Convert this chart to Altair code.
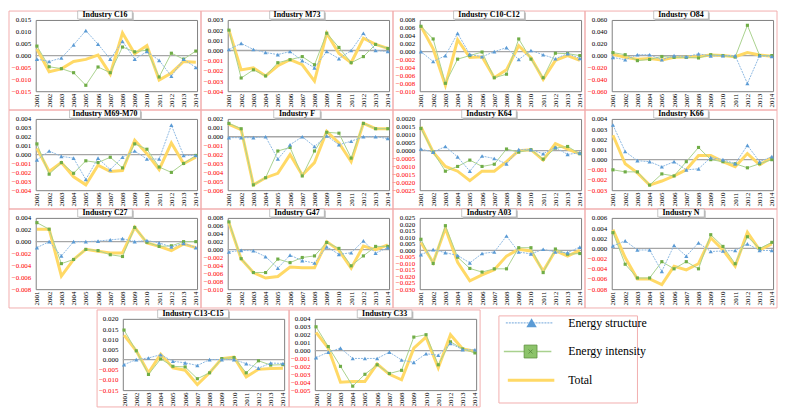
import altair as alt
import pandas as pd

years = list(range(2001, 2015))
series_names = ["Energy structure", "Energy intensity", "Total"]

# ---- data ----
C16_structure = [-0.0015, -0.0025, -0.001, 0.0045, 0.0105, 0.0048, -0.0015, 0.006, -0.0015, 0.0017, -0.002, -0.0087, -0.0015, -0.005]
C16_intensity = [0.004, -0.0047, -0.0055, -0.0072, -0.0125, -0.0048, -0.0072, 0.0036, 0.0016, 0.0023, -0.009, 0.001, -0.0015, 0.0019]
C16_total = [0.0028, -0.0068, -0.0056, -0.0025, -0.0016, 0.0002, -0.0078, 0.0095, 0.0008, 0.0042, -0.0103, -0.0073, -0.0025, -0.0028]
C16_ticks = [-0.015, -0.010, -0.005, 0.0, 0.005, 0.010, 0.015]

M73_structure = [0.0001, 0.0007, 0.0001, -0.0002, -0.0004, -0.0001, -0.001, -0.0017, -0.0001, -0.0008, 0.0, 0.0017, 0.0, -0.0001]
M73_intensity = [0.002, -0.0027, -0.0019, -0.0025, -0.0012, -0.0009, -0.0006, -0.0014, 0.0017, 0.0003, -0.0012, -0.0006, 0.0006, 0.0002]
M73_total = [0.002, -0.0019, -0.0017, -0.0025, -0.0015, -0.0009, -0.0014, -0.003, 0.0017, -0.0003, -0.0012, 0.0012, 0.0006, 0.0002]
M73_ticks = [-0.004, -0.003, -0.002, -0.001, 0.0, 0.001, 0.002, 0.003]

C10_structure = [0.0, -0.0025, -0.001, 0.0046, -0.0007, -0.0013, 0.0, 0.001, -0.002, 0.0003, -0.0008, -0.0018, -0.0005, -0.0017]
C10_intensity = [0.0064, 0.0032, -0.008, -0.0019, -0.001, -0.0001, -0.0066, -0.0057, 0.0032, -0.0019, -0.0066, -0.0004, -0.0005, -0.001]
C10_total = [0.0064, 0.0007, -0.0085, 0.003, -0.0015, -0.0013, -0.0066, -0.0046, 0.0015, -0.0015, -0.007, -0.0022, -0.001, -0.0022]
C10_ticks = [-0.010, -0.008, -0.006, -0.004, -0.002, 0.0, 0.002, 0.004, 0.006, 0.008]

O84_structure = [-0.003, -0.007, 0.0015, 0.0015, -0.007, 0.0, -0.002, 0.003, -0.0005, 0.0, 0.0, -0.047, 0.0, -0.0015]
O84_intensity = [0.005, 0.0015, -0.0085, -0.0065, -0.0015, -0.003, -0.003, -0.004, 0.0015, 0.0, -0.0025, 0.051, 0.0, 0.0]
O84_total = [0.002, -0.003, -0.006, -0.005, -0.0075, -0.003, -0.0025, -0.0015, 0.001, 0.0, -0.002, 0.005, 0.001, -0.001]
O84_ticks = [-0.060, -0.040, -0.020, 0.0, 0.020, 0.040, 0.060]

M69_structure = [-0.0006, 0.0004, -0.0002, -0.0004, -0.0028, -0.0004, -0.0017, -0.0003, 0.0004, -0.0005, -0.0005, 0.0033, -0.0001, -0.0001]
M69_intensity = [0.0012, -0.0022, -0.0009, -0.0021, -0.0007, -0.0009, -0.0003, -0.0015, 0.0012, 0.0006, -0.0014, -0.002, -0.001, -0.0001]
M69_total = [0.0007, -0.0019, -0.0009, -0.0025, -0.0034, -0.0012, -0.0019, -0.0018, 0.0016, 0.0001, -0.0017, 0.0013, -0.001, -0.0003]
M69_ticks = [-0.004, -0.003, -0.002, -0.001, 0.0, 0.001, 0.002, 0.003, 0.004]

F_structure = [-0.0001, -0.0001, -0.0001, 0.0, -0.0025, -0.0009, 0.0, -0.0011, 0.0001, -0.0009, -0.0005, 0.0, 0.0, -0.0002]
F_intensity = [0.0015, 0.0009, -0.0054, -0.0046, -0.0016, -0.0012, -0.0044, -0.0016, 0.0005, 0.0004, -0.0024, 0.0015, 0.0009, 0.0009]
F_total = [0.0014, 0.0008, -0.0054, -0.0046, -0.0041, -0.002, -0.0043, -0.0029, 0.0006, -0.0007, -0.0028, 0.0015, 0.0009, 0.0009]
F_ticks = [-0.006, -0.005, -0.004, -0.003, -0.002, -0.001, 0.0, 0.001, 0.002]

K64_structure = [0.0001, -0.0001, 0.00026, -0.0004, -0.0013, -0.00034, -0.0005, -0.00084, 0.00006, 0.00006, -0.0002, 0.0002, -0.00024, -0.00014]
K64_intensity = [0.0014, -0.0001, -0.0013, -0.001, -0.0006, -0.001, -0.00086, 0.0001, -0.0001, 0.00006, -0.00054, 0.00016, 0.00026, -0.0002]
K64_total = [0.0015, -0.0001, -0.001, -0.0013, -0.0019, -0.0013, -0.0013, -0.0007, 0.0, 0.00006, -0.0006, 0.00044, 0.0001, -0.0002]
K64_ticks = [-0.0025, -0.0020, -0.0015, -0.0010, -0.0005, 0.0, 0.0005, 0.0010, 0.0015, 0.0020]

K66_structure = [0.0034, 0.0008, -0.0001, -0.0002, -0.0007, -0.0002, -0.001, -0.0009, 0.0002, 0.0, -0.0004, 0.0014, -0.0002, 0.0003]
K66_intensity = [-0.001, -0.0012, -0.0012, -0.0025, -0.0014, -0.0016, -0.0002, 0.0012, 0.0, -0.0002, -0.0004, -0.0008, -0.0004, 0.0]
K66_total = [0.0024, -0.0004, -0.0013, -0.0025, -0.0021, -0.0016, -0.001, 0.0004, 0.0004, -0.0002, -0.0007, 0.0006, -0.0005, 0.0002]
K66_ticks = [-0.003, -0.002, -0.001, 0.0, 0.001, 0.002, 0.003, 0.004]

C27_structure = [-0.001, 0.0, -0.0024, 0.0, 0.0, 0.0001, 0.0003, 0.0005, 0.0, 0.0002, -0.0002, -0.0009, -0.0003, -0.001]
C27_intensity = [0.0032, 0.0021, -0.0037, -0.003, -0.0013, -0.0015, -0.0022, -0.0025, 0.0024, -0.0001, -0.0008, -0.0007, 0.0, 0.0]
C27_total = [0.0021, 0.0021, -0.0058, -0.003, -0.0013, -0.0016, -0.0019, -0.0019, 0.0024, -0.0002, -0.0008, -0.0015, -0.0004, -0.001]
C27_ticks = [-0.008, -0.006, -0.004, -0.002, 0.0, 0.002, 0.004]

G47_structure = [-0.0006, -0.0002, -0.0003, -0.0018, -0.0047, -0.0014, -0.0028, -0.0034, 0.0007, -0.0012, -0.0008, 0.0022, -0.0009, 0.0005]
G47_intensity = [0.007, -0.0023, -0.0058, -0.0058, -0.0024, -0.0033, -0.002, -0.0016, 0.0018, 0.0003, -0.0041, -0.0016, 0.0008, 0.0008]
G47_total = [0.0068, -0.0024, -0.0058, -0.0072, -0.0068, -0.0044, -0.0046, -0.0046, 0.002, -0.0002, -0.0047, 0.0009, 0.0, 0.0012]
G47_ticks = [-0.010, -0.008, -0.006, -0.004, -0.002, 0.0, 0.002, 0.004, 0.006, 0.008]

A03_structure = [-0.0033, 0.0005, -0.0018, -0.004, -0.0097, -0.0025, -0.0013, 0.011, -0.0013, -0.0028, 0.0008, -0.0013, -0.0018, 0.0025]
A03_intensity = [0.0085, -0.0102, 0.019, -0.0053, -0.014, -0.0168, -0.0143, -0.0143, 0.002, 0.002, -0.0172, 0.001, -0.003, -0.0025]
A03_total = [0.006, -0.0095, 0.017, -0.0093, -0.0235, -0.019, -0.015, -0.0045, 0.0008, -0.0005, -0.016, -0.0003, -0.0045, 0.0]
A03_ticks = [-0.030, -0.025, -0.020, -0.015, -0.010, -0.005, 0.0, 0.005, 0.010, 0.015, 0.020, 0.025]

N_structure = [0.0005, 0.0015, -0.0003, -0.0003, -0.0045, 0.0006, -0.0015, 0.0011, -0.0006, -0.0005, -0.0004, 0.0009, -0.0004, -0.0004]
N_intensity = [0.0031, -0.0031, -0.0058, -0.0058, -0.0026, -0.004, -0.0026, -0.004, 0.0027, 0.0004, -0.003, 0.0023, 0.0, 0.0012]
N_total = [0.0037, -0.0018, -0.006, -0.006, -0.0071, -0.0035, -0.0042, -0.003, 0.0021, -0.0003, -0.0035, 0.0032, -0.0003, 0.0009]
N_ticks = [-0.008, -0.006, -0.004, -0.002, 0.0, 0.002, 0.004, 0.006]

C13_structure = [-0.0025, 0.0, 0.0008, 0.0024, -0.0008, -0.0016, -0.0029, 0.0, 0.0, 0.0, -0.002, -0.0042, -0.0017, -0.0019]
C13_intensity = [0.0145, 0.0043, -0.0073, 0.0003, -0.0033, -0.0036, -0.0094, -0.0065, 0.0005, 0.001, -0.0065, -0.0006, -0.0027, -0.0025]
C13_total = [0.012, 0.0043, -0.0065, 0.0027, -0.0041, -0.0052, -0.0123, -0.0065, 0.0005, 0.0012, -0.0085, -0.0048, -0.0044, -0.0043]
C13_ticks = [-0.015, -0.010, -0.005, 0.0, 0.005, 0.010, 0.015, 0.020]

C33_structure = [-0.0009, -0.0002, 0.0003, -0.001, -0.001, -0.001, -0.0002, -0.0012, -0.0015, -0.0004, -0.0006, 0.0009, 0.0001, 0.0001]
C33_intensity = [0.003, 0.0005, -0.002, -0.0045, -0.003, -0.0018, -0.0029, -0.0025, 0.0017, 0.002, -0.0018, 0.0011, 0.0002, -0.0003]
C33_total = [0.0023, 0.0003, -0.004, -0.0039, -0.0039, -0.0017, -0.003, -0.0037, 0.0003, 0.0017, -0.0022, 0.002, 0.0002, -0.0001]
C33_ticks = [-0.005, -0.004, -0.003, -0.002, -0.001, 0.0, 0.001, 0.002, 0.003, 0.004]

# ---- styling ----
SERIF = "Liberation Serif"
PINK = "#F2AEAE"
RED = "#FF0000"
BLUE_L = "#8DB8E2"
BLUE_M = "#5B9BD5"
GREEN_L = "#A9D18E"
GREEN_M = "#70AD47"
YELLOW = "#FFD966"
ZERO = "#A6A6A6"
FRAME = "#808080"

W = 163
H = 72
ONE = pd.DataFrame({"k": [0]})


def series_df(vals):
    return pd.DataFrame({"year": years, "value": vals})


def panel(title, s, i, t, ticks, fmt, frame_box):
    fx1, fx2, fy1, fy2 = frame_box
    xenc = alt.X("year:O", scale=alt.Scale(type="point", padding=0.1),
                 axis=alt.Axis(title=None, labelAngle=-90, labelFont=SERIF, labelFontSize=7,
                               labelColor="#000000", ticks=False, domain=False, labelPadding=2,
                               labelOverlap=False, grid=False))
    yenc = alt.Y("value:Q", scale=alt.Scale(domain=[ticks[0], ticks[-1]], nice=False, zero=False),
                 axis=alt.Axis(title=None, values=ticks, tickCount=len(ticks), format=fmt,
                               labelFont=SERIF, labelFontSize=7,
                               labelColor=alt.condition("datum.value < 0", alt.value(RED), alt.value("#000000")),
                               ticks=False, domain=False, grid=False, labelPadding=5, labelOverlap=False,
                               labelFlush=False))
    frame = alt.Chart(ONE).mark_rect(fillOpacity=0, stroke=PINK, strokeWidth=1).encode(
        x=alt.value(fx1), x2=alt.value(fx2), y=alt.value(fy1), y2=alt.value(fy2))
    zero = alt.Chart(pd.DataFrame({"value": [0.0]})).mark_rule(color=ZERO, strokeWidth=1.3).encode(y=yenc)
    tot = alt.Chart(series_df(t)).mark_line(color=YELLOW, strokeWidth=3).encode(x=xenc, y=yenc)
    il = alt.Chart(series_df(i)).mark_line(color=GREEN_L, strokeWidth=1).encode(x=xenc, y=yenc)
    ip = alt.Chart(series_df(i)).mark_point(shape="square", filled=True, size=10, color=GREEN_M, opacity=1).encode(x=xenc, y=yenc)
    sl = alt.Chart(series_df(s)).mark_line(color=BLUE_L, strokeWidth=1, strokeDash=[2, 1]).encode(x=xenc, y=yenc)
    sp = alt.Chart(series_df(s)).mark_point(shape="triangle-up", filled=True, size=18, color=BLUE_M, opacity=1).encode(x=xenc, y=yenc)
    cx = (fx1 + fx2) / 2.0
    bw = len(title) * 4.1 + 6
    shadow = alt.Chart(ONE).mark_rect(fill="#BFBFBF").encode(
        x=alt.value(cx - bw / 2 + 1.5), x2=alt.value(cx + bw / 2 + 1.5), y=alt.value(-7.5), y2=alt.value(0.5))
    box = alt.Chart(ONE).mark_rect(fill="white", stroke="#A0A0A0", strokeWidth=0.6).encode(
        x=alt.value(cx - bw / 2), x2=alt.value(cx + bw / 2), y=alt.value(-9), y2=alt.value(-1))
    txt = alt.Chart(ONE).mark_text(font=SERIF, fontSize=8, fontWeight="bold", color="#000000",
                                   align="center", baseline="middle").encode(
        x=alt.value(cx), y=alt.value(-4.8), text=alt.value(title))
    return alt.layer(frame, zero, tot, il, ip, sl, sp, shadow, box, txt).properties(width=W, height=H)


std_box = (-27, W + 4, -9, H + 19)
panels_spec = [
    ("Industry C16", C16_structure, C16_intensity, C16_total, C16_ticks, ".3f"),
    ("Industry M73", M73_structure, M73_intensity, M73_total, M73_ticks, ".3f"),
    ("Industry C10-C12", C10_structure, C10_intensity, C10_total, C10_ticks, ".3f"),
    ("Industry O84", O84_structure, O84_intensity, O84_total, O84_ticks, ".3f"),
    ("Industry M69-M70", M69_structure, M69_intensity, M69_total, M69_ticks, ".3f"),
    ("Industry F", F_structure, F_intensity, F_total, F_ticks, ".3f"),
    ("Industry K64", K64_structure, K64_intensity, K64_total, K64_ticks, ".4f"),
    ("Industry K66", K66_structure, K66_intensity, K66_total, K66_ticks, ".3f"),
    ("Industry C27", C27_structure, C27_intensity, C27_total, C27_ticks, ".3f"),
    ("Industry G47", G47_structure, G47_intensity, G47_total, G47_ticks, ".3f"),
    ("Industry A03", A03_structure, A03_intensity, A03_total, A03_ticks, ".3f"),
    ("Industry N", N_structure, N_intensity, N_total, N_ticks, ".3f"),
]

top_grid = alt.concat(*[panel(*p, std_box) for p in panels_spec], columns=4,
                      spacing={"row": 28, "column": 31}, bounds="flush")

SP_W = 57
spacer = alt.Chart(ONE).mark_rect(fillOpacity=0, strokeOpacity=0).encode(
    x=alt.value(0), x2=alt.value(SP_W), y=alt.value(0), y2=alt.value(H)).properties(
    width=SP_W, height=H, view=alt.ViewBackground(stroke="transparent"))
c13 = panel("Industry C13-C15", C13_structure, C13_intensity, C13_total, C13_ticks, ".3f",
            (-26, W + 5, -9, H + 17))
c33 = panel("Industry C33", C33_structure, C33_intensity, C33_total, C33_ticks, ".3f",
            (-26, W + 4, -9, H + 17))

# ---- legend panel ----
leg = pd.DataFrame({"series": series_names})
ly = alt.Y("series:N", sort=series_names, scale=alt.Scale(type="point", range=[4, 62], padding=0), axis=None)
lbox = alt.Chart(ONE).mark_rect(fillOpacity=0, stroke=PINK, strokeWidth=1).encode(
    x=alt.value(-8), x2=alt.value(132), y=alt.value(-3), y2=alt.value(85))
base = alt.Chart(leg)
l_s = base.transform_filter("datum.series == 'Energy structure'").mark_rule(
    color=BLUE_L, strokeWidth=1.2, strokeDash=[2, 1]).encode(x=alt.value(-1), x2=alt.value(46), y=ly)
l_sp = base.transform_filter("datum.series == 'Energy structure'").mark_point(
    shape="triangle-up", filled=True, size=110, color=BLUE_M, opacity=1).encode(x=alt.value(25), y=ly)
l_i = base.transform_filter("datum.series == 'Energy intensity'").mark_rule(
    color=GREEN_L, strokeWidth=1.5).encode(x=alt.value(-3), x2=alt.value(45), y=ly)
l_ip = base.transform_filter("datum.series == 'Energy intensity'").mark_point(
    shape="square", filled=True, size=170, color="#8CC36A", stroke="#5E8F3E", strokeWidth=0.8, opacity=1).encode(x=alt.value(24), y=ly)
l_ix = base.transform_filter("datum.series == 'Energy intensity'").mark_point(
    shape="M-1,-1L1,1M-1,1L1,-1", filled=False, size=16, color="#3F6F2A", strokeWidth=0.8).encode(x=alt.value(24), y=ly)
l_t = base.transform_filter("datum.series == 'Total'").mark_rule(
    color=YELLOW, strokeWidth=3).encode(x=alt.value(1), x2=alt.value(48), y=ly)
l_txt = base.mark_text(font=SERIF, fontSize=12, align="left", baseline="middle", color="#000000").encode(
    x=alt.value(62), y=ly, text="series:N")
legend = alt.layer(lbox, l_s, l_sp, l_i, l_ip, l_ix, l_t, l_txt).properties(
    width=130, height=H, view=alt.ViewBackground(stroke="transparent"))

bottom_row = alt.hconcat(spacer, c13, c33, legend, spacing=31, bounds="flush")

chart = alt.vconcat(top_grid, bottom_row, spacing=0, bounds="full").properties(
    padding=0).configure_view(stroke=FRAME, strokeWidth=1)

chart.save("out.html", embed_options={"renderer": "svg", "actions": False})
